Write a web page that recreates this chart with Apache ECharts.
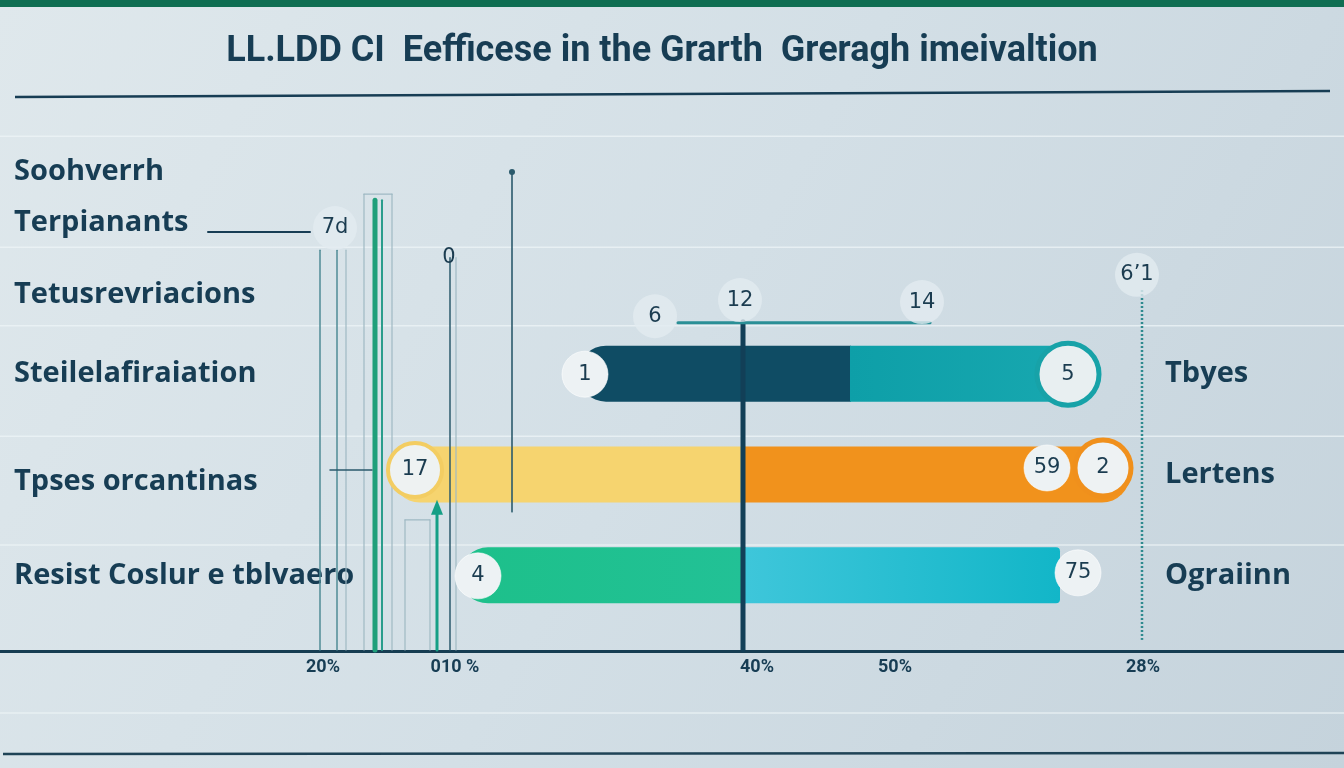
<!DOCTYPE html>
<html><head><meta charset="utf-8">
<script src="https://cdn.jsdelivr.net/npm/echarts@6/dist/echarts.min.js"></script>
<style>html,body{margin:0;padding:0;background:#d3dfe6;}#c{width:1344px;height:768px;}</style>
</head><body><div id="c"></div>
<script>
// ---------- data ----------
const titleText = 'LL.LDD CI  Eefficese in the Grarth  Greragh imeivaltion';
const leftLabels = ['Soohverrh','Terpianants','Tetusrevriacions','','Steilelafiraiation','','Tpses orcantinas','','Resist Coslur e tblvaero',''];
const rightLabels = ['','','','','Tbyes','','Lertens','','Ograiinn',''];
const xTickValues = [32.3, 45.5, 75.7, 89.5, 114.3];
const xTickLabels = ['20%','010 %','40%','50%','28%'];

const barSlots = [4, 6, 8];
const barStart = [57.8, 39.2, 46.0];
const barSplit = [85.0, 74.5, 74.5];
const barEnd   = [108.5, 113.0, 106.0];

const markerNames = ['1','5','17','59','2','4','75','6','12','14','6\u20191','7d','0'];
const markerX = [58.5, 106.8, 41.5, 104.7, 110.3, 47.8, 107.8, 65.5, 74.0, 92.2, 113.7, 33.5, 44.9];
const markerY = [4.51, 4.51, 6.41, 6.37, 6.37, 8.51, 8.45, 3.36, 3.04, 3.08, 2.54, 1.61, 2.20];
const markerKind = [0, 1, 2, 0, 3, 0, 0, 4, 4, 4, 4, 4, 5];

const gridLineY = [-0.21, 1.99, 3.55, 5.74, 7.90, 11.23];

// segments: x1, y1, x2, y2, kind
const segX1 = [32.0, 33.7, 45.0, 45.6, 34.6, 36.4, 39.2, 36.4, 40.5, 43.0, 40.5, 37.5, 38.2, 51.2, 33.0, 74.3, 20.8, 67.8, 114.2, 43.7];
const segY1 = [2.05, 2.05, 2.20, 2.20, 2.05, 0.94, 0.94, 0.94, 7.40, 7.40, 7.40, 1.06, 1.06, 0.50, 6.41, 3.47, 1.69, 3.49, 2.84, 9.98];
const segX2 = [32.0, 33.7, 45.0, 45.6, 34.6, 36.4, 39.2, 39.2, 40.5, 43.0, 43.0, 37.5, 38.2, 51.2, 37.2, 74.3, 31.0, 93.0, 114.2, 43.7];
const segY2 = [9.98, 9.98, 9.98, 9.98, 9.98, 9.98, 9.98, 0.94, 9.98, 9.98, 7.40, 9.98, 9.98, 7.24, 6.41, 9.98, 1.69, 3.49, 9.78, 7.24];
const segKind = [1, 1, 3, 7, 7, 7, 7, 7, 7, 7, 7, 2, 5, 11, 3, 4, 8, 6, 9, 10];

// ---------- styles ----------
const ink = '#173d54';
const labelFont = '"Open Sans", sans-serif';
const leftFill = [
  '#0f4c64',
  '#f6d46f',
  {type:'linear',x:0,y:0,x2:1,y2:0,colorStops:[{offset:0,color:'#1dc08a'},{offset:1,color:'#22c196'}]}
];
const rightFill = [
  {type:'linear',x:0,y:0,x2:1,y2:0,colorStops:[{offset:0,color:'#0e9fa8'},{offset:1,color:'#18a8b0'}]},
  '#f1921c',
  {type:'linear',x:0,y:0,x2:1,y2:0,colorStops:[{offset:0,color:'#3ec6da'},{offset:1,color:'#12b6c8'}]}
];
const rightRound = [true, true, false];
const decorStyles = {
  1: {c:'#4f8b96', w:1.5},
  2: {c:'#1f9f7a', w:5},
  3: {c:'#2b5a6c', w:1.5},
  4: {c:'#123f57', w:5},
  5: {c:'#2a9d8c', w:2},
  6: {c:'#2a8f96', w:3},
  7: {c:'#9fb9c3', w:1.2},
  8: {c:'#173d54', w:2},
  9: {c:'#2f8a8f', w:2.5, dash:[2,2]},
  10: {c:'#159f86', w:3, arrow:true},
  11: {c:'#2b5a6c', w:1.6, dot:true}
};
const markerStyles = {
  0: {size:46, item:{color:'#edf2f4', opacity:1, borderColor:'rgba(255,255,255,0.6)', borderWidth:1}},
  1: {size:62, item:{color:'#e8eff1', opacity:1, borderColor:'#17a2a8', borderWidth:5}},
  2: {size:54, item:{color:'#eef2f2', opacity:1, borderColor:'#f3cd62', borderWidth:4}},
  3: {size:56, item:{color:'#eef2f3', opacity:1, borderColor:'#f0901c', borderWidth:5}},
  4: {size:44, item:{color:'rgba(226,235,240,0.8)', opacity:1}},
  5: {size:20, item:{color:'rgba(226,235,240,0.0)', opacity:1}}
};

// ---------- chart ----------
const chart = echarts.init(document.getElementById('c'), null, {renderer:'canvas'});

function renderBar(params, api){
  const i = params.dataIndex;
  const slot = api.value(3);
  const s = api.coord([api.value(0), slot]);
  const m = api.coord([api.value(1), slot]);
  const e = api.coord([api.value(2), slot]);
  const h = 56;
  const re = rightRound[i] ? h/2 : 4;
  return {type:'group', children:[
    {type:'rect', shape:{x:s[0], y:s[1]-h/2, width:m[0]-s[0]+1, height:h, r:[h/2,0,0,h/2]}, style:{fill:leftFill[i]}},
    {type:'rect', shape:{x:m[0], y:m[1]-h/2, width:e[0]-m[0], height:h, r:[0,re,re,0]}, style:{fill:rightFill[i]}}
  ]};
}
function renderSeg(params, api){
  const k = api.value(4);
  const st = decorStyles[k];
  const p1 = api.coord([api.value(0), api.value(1)]);
  const p2 = api.coord([api.value(2), api.value(3)]);
  const ch = [{type:'line', shape:{x1:p1[0],y1:p1[1],x2:p2[0],y2:p2[1]},
    style:{stroke:st.c, lineWidth:st.w, lineDash:st.dash||null, lineCap: st.dash?'butt':'round'}}];
  if (st.arrow) ch.push({type:'polygon', shape:{points:[[p2[0],p2[1]-12],[p2[0]-6,p2[1]+3],[p2[0]+6,p2[1]+3]]}, style:{fill:st.c}});
  if (st.dot) ch.push({type:'circle', shape:{cx:p1[0], cy:p1[1], r:3}, style:{fill:st.c}});
  return {type:'group', children:ch};
}
function renderGridLine(params, api){
  const p1 = api.coord([0, api.value(0)]);
  const p2 = api.coord([134.4, api.value(0)]);
  return {type:'line', shape:{x1:p1[0],y1:p1[1],x2:p2[0],y2:p2[1]}, style:{stroke:'rgba(238,244,247,0.75)', lineWidth:1.5}};
}
const richBase = {color:ink, fontSize:29, fontWeight:700, fontFamily:labelFont};

const option = {
  backgroundColor: {type:'linear', x:0, y:0, x2:1, y2:1, colorStops:[
    {offset:0, color:'#dfe8ec'}, {offset:0.5, color:'#d3dfe6'}, {offset:1, color:'#c5d3dc'}]},
  animation: false,
  title: {
    text: titleText, left: 657, top: 29, textAlign: 'center',
    textStyle: {color: ink, fontSize: 36, fontWeight: 'bold', fontFamily: '"Roboto", sans-serif'}
  },
  graphic: [
    {type:'rect', shape:{x:0, y:0, width:1344, height:7}, style:{fill:'#0f6e52'}, z:10},
    {type:'line', shape:{x1:15, y1:97, x2:1330, y2:91}, style:{stroke:ink, lineWidth:2.5}, z:10},
    {type:'line', shape:{x1:3, y1:754, x2:1344, y2:753}, style:{stroke:'#1f4356', lineWidth:2.5}, z:10}
  ],
  grid: {left:0, right:0, top:146.8, bottom:117, containLabel:false},
  xAxis: {
    type:'value', min:0, max:134.4,
    axisLine:{show:true, onZero:false, lineStyle:{color:'#163d52', width:3}},
    axisTick:{show:false}, splitLine:{show:false},
    axisLabel:{
      customValues: xTickValues, margin: 7, color: ink, fontSize: 18, fontWeight:'bold',
      fontFamily:'"Roboto", sans-serif',
      formatter: function(v){ for (let i=0;i<xTickValues.length;i++){ if (Math.abs(xTickValues[i]-v)<0.01) return xTickLabels[i]; } return ''; }
    }
  },
  yAxis: [
    {type:'category', data:leftLabels, inverse:true, position:'left',
      axisLine:{show:false}, axisTick:{show:false}, splitLine:{show:false},
      axisLabel:{inside:true, margin:14, color:ink, fontSize:29, fontWeight:700, fontFamily:labelFont,
        formatter: function(v, i){ if (i===2) return '{d22|'+v+'}'; if (i===6) return '{d7|'+v+'}'; if (i===0) return '{l6|'+v+'}'; return v; },
        rich:{
          d22: Object.assign({padding:[44,0,0,0]}, richBase),
          d7: Object.assign({padding:[14,0,0,0]}, richBase),
          l6: Object.assign({padding:[0,0,0,0]}, richBase)
        }}
    },
    {type:'category', data:rightLabels, inverse:true, position:'right',
      axisLine:{show:false}, axisTick:{show:false}, splitLine:{show:false},
      axisLabel:{inside:true, align:'left', margin:179, color:ink, fontSize:29, fontWeight:700, fontFamily:labelFont}
    },
    {type:'value', min:0, max:10, inverse:true, show:false}
  ],
  series: [
    {type:'custom', name:'grid', yAxisIndex:2, z:1, silent:true,
      renderItem: renderGridLine, encode:{y:0}, data: gridLineY.map(v=>[v])},
    {type:'custom', name:'bars', yAxisIndex:0, z:2, renderItem: renderBar,
      encode:{x:[0,1,2], y:3},
      data: barSlots.map((s,i)=>[barStart[i], barSplit[i], barEnd[i], s])},
    {type:'custom', name:'lines', yAxisIndex:2, z:3, renderItem: renderSeg,
      encode:{x:[0,2], y:[1,3]},
      data: segX1.map((x,i)=>[x, segY1[i], segX2[i], segY2[i], segKind[i]])},
    {type:'scatter', name:'markers', yAxisIndex:2, z:4,
      data: markerX.map((x,i)=>({value:[x, markerY[i]], name:markerNames[i],
        symbolSize: markerStyles[markerKind[i]].size, itemStyle: markerStyles[markerKind[i]].item})),
      label:{show:true, position:'inside', formatter:'{b}', color:'#1b3c50', fontSize:21,
        fontFamily:'"DejaVu Sans", sans-serif'}
    }
  ]
};
chart.setOption(option);
</script>
</body></html>
